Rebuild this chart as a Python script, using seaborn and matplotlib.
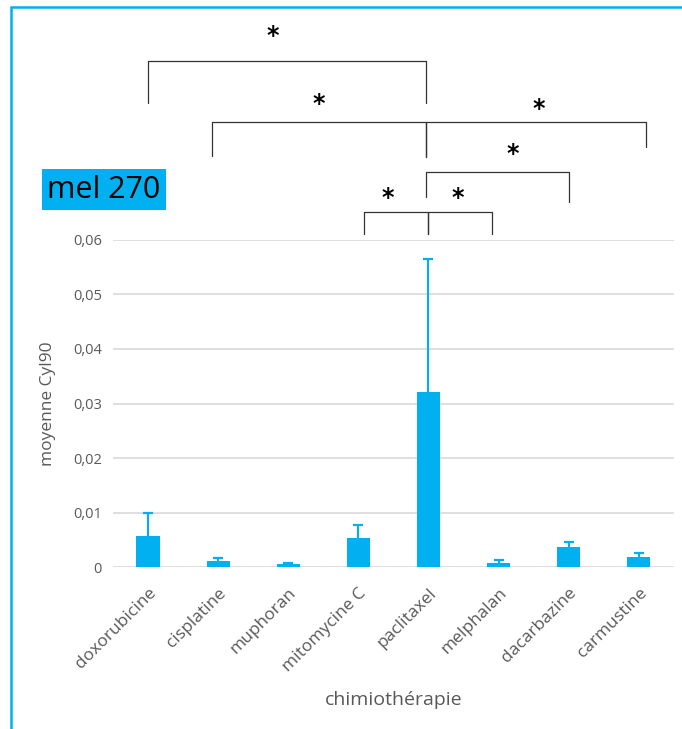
import numpy as np
import pandas as pd
import matplotlib
matplotlib.use('Agg')
from matplotlib import pyplot as plt
from matplotlib.patches import Rectangle
import seaborn as sns

# données
drugs = ['doxorubicine', 'cisplatine', 'muphoran', 'mitomycine C',
         'paclitaxel', 'melphalan', 'dacarbazine', 'carmustine']
means = [0.0057, 0.0011, 0.0005, 0.0053, 0.0322, 0.0008, 0.0037, 0.0018]
err_plus = [0.0043, 0.0006, 0.0002, 0.0025, 0.0244, 0.0004, 0.0008, 0.0007]
yticks = [0, 0.01, 0.02, 0.03, 0.04, 0.05, 0.06]
ytick_labels = ['0', '0,01', '0,02', '0,03', '0,04', '0,05', '0,06']

# crochets de significativité : (x gauche, x droite, hauteur, pied gauche, pied droit)
brackets = [
    (0, 3.96, 0.0929, 0.0852, 0.0852),
    (0.91, 3.96, 0.0817, 0.0755, 0.0753),
    (3.96, 7.11, 0.0817, 0.0753, 0.0771),
    (3.96, 6, 0.0725, 0.0679, 0.0670),
    (3.08, 4.0, 0.0652, 0.0611, 0.0611),
    (4.0, 4.9, 0.0652, 0.0611, 0.0611),
]
stars = [(1.78, 0.0975), (2.43, 0.0850), (5.58, 0.0840), (5.2, 0.0757),
         (3.42, 0.0677), (4.42, 0.0677)]

blue = '#00B0F0'
grey = '#595959'

if __name__ == '__main__':
    sns.set_theme(style='white')
    plt.rcParams['font.family'] = ['Open Sans', 'DejaVu Sans']

    df = pd.DataFrame({'chimiothérapie': drugs, 'moyenne': means})

    fig = plt.figure(figsize=(6.82, 7.29), dpi=100)
    ax = fig.add_axes([0.1657, 0.2222, 0.8223, 0.4486])

    sns.barplot(data=df, x='chimiothérapie', y='moyenne', color=blue,
                width=0.33, errorbar=None, saturation=1, linewidth=0,
                ax=ax, zorder=3)
    # barres d'erreur (uniquement vers le haut)
    xs = np.arange(len(drugs))
    tops = np.array(means) + np.array(err_plus)
    ax.vlines(xs, means, tops, color=blue, linewidth=1.5, zorder=4)
    ax.scatter(xs, tops, marker='_', s=45, color=blue, linewidths=1.6, zorder=4)

    ax.set_ylim(0, 0.06)
    ax.set_xlim(-0.5, len(drugs) - 0.5)
    ax.set_yticks(yticks)
    ax.set_yticklabels(ytick_labels, color=grey, fontsize=10.5)
    ax.yaxis.grid(True, color='#D9D9D9', linewidth=1.2, zorder=0)
    ax.set_axisbelow(True)
    ax.tick_params(axis='y', length=0, pad=8)
    ax.tick_params(axis='x', length=0, pad=13)
    for s in ax.spines.values():
        s.set_visible(False)

    ax.set_xticks(range(len(drugs)))
    ax.set_xticklabels(drugs, rotation=45, ha='right', rotation_mode='anchor',
                       color=grey, fontsize=12.5)
    ax.set_xlabel('chimiothérapie', color=grey, fontsize=14, labelpad=12)
    ax.set_ylabel('moyenne Cyl90', color=grey, fontsize=12.5, labelpad=12)

    # crochets et étoiles
    for x0, x1, h, l0, l1 in brackets:
        ax.plot([x0, x0, x1, x1], [l0, h, h, l1], color='#333333',
                linewidth=0.9, clip_on=False)
    for xs_, ys_ in stars:
        ax.text(xs_, ys_, '*', ha='center', va='center', fontsize=17,
                fontweight='bold', family='DejaVu Sans',
                color='black', clip_on=False)

    # étiquette de la lignée
    fig.text(0.069, 0.740, 'mel 270', fontsize=22, color='black',
             va='center', ha='left',
             bbox=dict(boxstyle='square,pad=0.18', facecolor=blue, edgecolor='none'))

    # cadre bleu
    fig.patches.append(Rectangle((11 / 682, -0.1), 1.2, 1 - 7 / 729 + 0.1,
                                 transform=fig.transFigure, fill=False,
                                 edgecolor=blue, linewidth=1.8))

    fig.savefig('out.png', dpi=100)
